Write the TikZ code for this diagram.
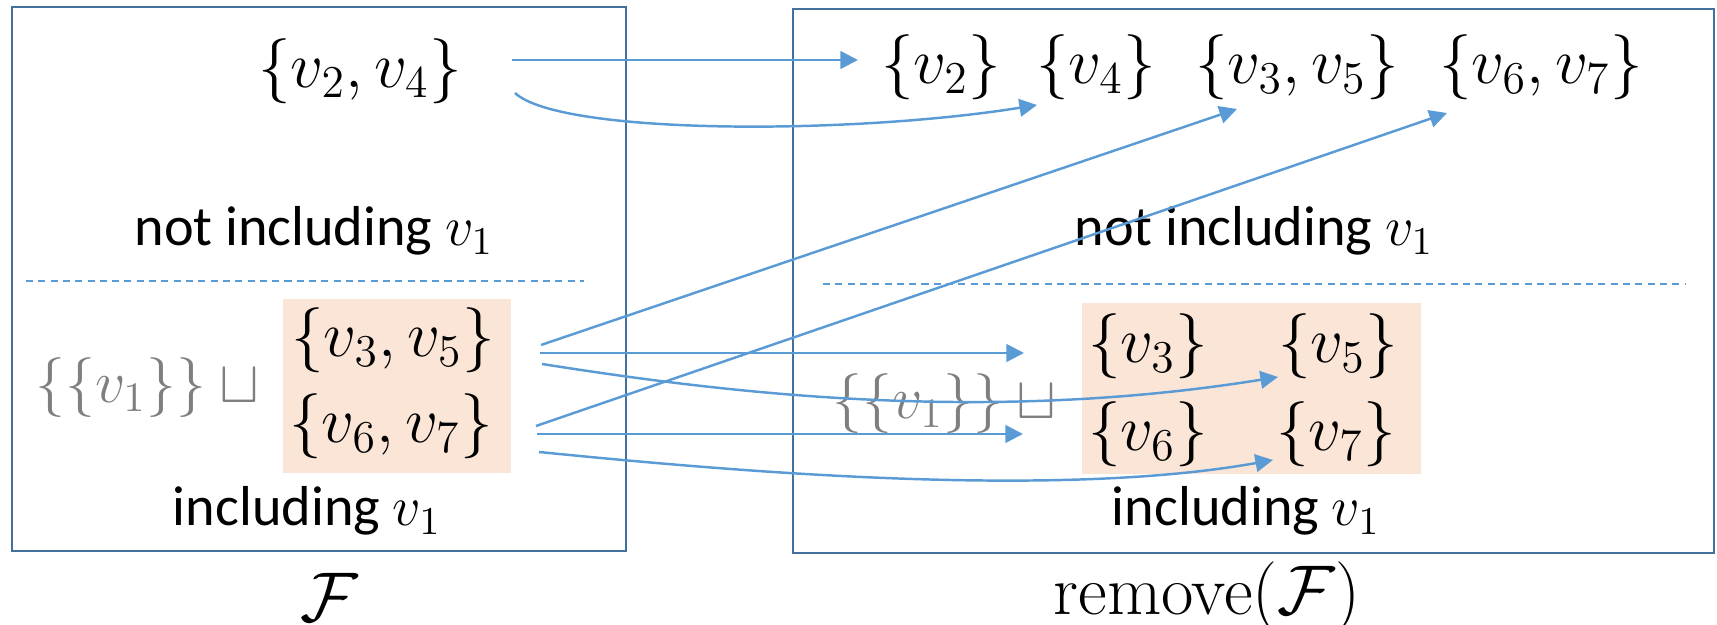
\RequirePackage{fix-cm}
\documentclass[tikz,border=0pt]{standalone}
\usepackage[no-math]{fontspec}
\setmainfont{Carlito}
\usetikzlibrary{arrows.meta}
\definecolor{boxc}{HTML}{41719C}
\definecolor{arrc}{HTML}{5B9BD5}
\definecolor{fillc}{HTML}{FBE5D6}
\definecolor{grayc}{HTML}{7F7F7F}
\tikzset{
  frame/.style={draw=boxc,line width=0.8pt},
  sepline/.style={draw=arrc,line width=0.4pt,dash pattern=on 2pt off 1.5pt},
  arr/.style={draw=arrc,line width=0.7pt,-{Triangle[length=5pt,width=5pt]}},
  mset/.style={font=\fontsize{18.5}{22}\selectfont,inner sep=1pt},
  gset/.style={font=\fontsize{17}{20}\selectfont,inner sep=1pt,text=grayc},
  lbl/.style={font=\fontsize{16}{19}\selectfont,inner sep=1pt},
  big/.style={font=\fontsize{20}{24}\selectfont,inner sep=1pt},
  orangebox/.style={fill=fillc,draw=none},
}
\begin{document}
\begin{tikzpicture}[x=0.01cm,y=-0.01cm]
\useasboundingbox (0,0) rectangle (1717,625);
% frames
\draw[frame] (12,7) rectangle (626,551);
\draw[frame] (793,9) rectangle (1714,553);
% separators
\draw[sepline] (26,281) -- (584,281);
\draw[sepline] (823,284) -- (1686,284);
% orange regions
\fill[orangebox] (283,299) rectangle (511,473);
\fill[orangebox] (1082,303) rectangle (1421,474);
% left box
\node[mset] (s24) at (360,71) {$\{v_2,v_4\}$};
\node[lbl] (nl) at (314,231) {not including $v_1$};
\node[gset] (gl) at (154,388) {$\bigl\{\{v_1\}\bigr\}\sqcup{}$};
\node[mset] (s35) at (393,340) {$\{v_3,v_5\}$};
\node[mset] (s67) at (391,426) {$\{v_6,v_7\}$};
\node[lbl] (il) at (307,511) {including $v_1$};
\node[big] (F) at (329,597) {$\mathcal{F}$};
% right box
\node[mset] (r2) at (941,67) {$\{v_2\}$};
\node[mset] (r4) at (1096,67) {$\{v_4\}$};
\node[mset] (r35) at (1297,67) {$\{v_3,v_5\}$};
\node[mset] (r67) at (1541,67) {$\{v_6,v_7\}$};
\node[lbl] (nr) at (1254,231) {not including $v_1$};
\node[gset] (gr) at (951,404) {$\bigl\{\{v_1\}\bigr\}\sqcup{}$};
\node[mset] (r3) at (1148,346) {$\{v_3\}$};
\node[mset] (r5) at (1338,346) {$\{v_5\}$};
\node[mset] (r6) at (1148,434) {$\{v_6\}$};
\node[mset] (r7) at (1336,434) {$\{v_7\}$};
\node[lbl] (ir) at (1246,511) {including $v_1$};
\node[big] (rF) at (1207,597) {$\mathrm{remove}(\mathcal{F})$};
% connector endpoints
\coordinate (a1s) at (512,60);   \coordinate (a1e) at (858,60);
\coordinate (a2s) at (515,93);   \coordinate (a2e) at (1037,105);
\coordinate (a3s) at (541,345);  \coordinate (a3e) at (1237,109);
\coordinate (a4s) at (536,426);  \coordinate (a4e) at (1447,113);
\coordinate (a5s) at (540,353);  \coordinate (a5e) at (1024,353);
\coordinate (a6s) at (542,364);  \coordinate (a6e) at (1278,377);
\coordinate (a7s) at (537,434);  \coordinate (a7e) at (1023,434);
\coordinate (a8s) at (539,452);  \coordinate (a8e) at (1273,460);
% connectors
\draw[arr] (a1s) -- (a1e);
\draw[arr] (a2s) .. controls (560,135) and (850,135) .. (a2e);
\draw[arr] (a3s) -- (a3e);
\draw[arr] (a4s) -- (a4e);
\draw[arr] (a5s) -- (a5e);
\draw[arr] (a6s) .. controls (720,392) and (980,425) .. (a6e);
\draw[arr] (a7s) -- (a7e);
\draw[arr] (a8s) .. controls (720,470) and (1050,500) .. (a8e);
\end{tikzpicture}
\end{document}
